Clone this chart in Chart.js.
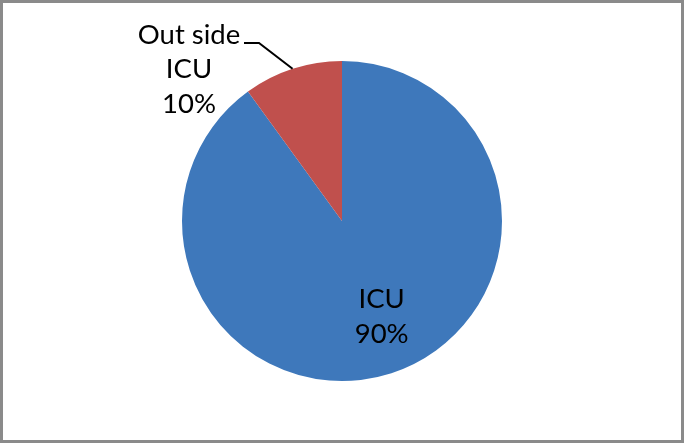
<!DOCTYPE html>
<html>
<head>
<meta charset="utf-8">
<script src="https://cdn.jsdelivr.net/npm/chart.js@4"></script>
<style>
html,body{margin:0;padding:0;background:#fff;}
#wrap{position:relative;width:684px;height:443px;}
canvas{display:block;}
</style>
</head>
<body>
<div id="wrap"><canvas id="c" width="684" height="443"></canvas></div>
<script>
const categories = ["ICU", "Out side ICU"];
const values = [90, 10];
const percentLabels = ["90%", "10%"];
const colors = ["#3E78BB", "#C0504D"];

const FONT = "27.5px Lato, 'Open Sans', sans-serif";

const labelPlugin = {
  id: 'labels',
  afterDraw(chart) {
    const ctx = chart.ctx;
    const meta = chart.getDatasetMeta(0);
    ctx.save();
    ctx.fillStyle = '#000';
    ctx.font = FONT;
    ctx.textAlign = 'center';
    ctx.textBaseline = 'middle';
    // ICU label inside slice
    const a0 = meta.data[0];
    const mid0 = (a0.startAngle + a0.endAngle) / 2;
    const r0 = a0.outerRadius * 0.6;
    const x0 = a0.x + Math.cos(mid0) * r0 + 10;
    const y0 = a0.y + Math.sin(mid0) * r0 + 4;
    ctx.fillText(categories[0], x0, y0 - 17);
    ctx.fillText(percentLabels[0], x0, y0 + 18);
    // Outside label with leader line
    const a1 = meta.data[1];
    const mid1 = (a1.startAngle + a1.endAngle) / 2;
    const ex = a1.x + Math.cos(mid1) * a1.outerRadius;
    const ey = a1.y + Math.sin(mid1) * a1.outerRadius;
    ctx.strokeStyle = '#000';
    ctx.lineWidth = 2;
    ctx.beginPath();
    ctx.moveTo(ex, ey);
    ctx.lineTo(259, 43);
    ctx.lineTo(244, 43);
    ctx.stroke();
    const parts = categories[1].split(' ');
    ctx.fillText(parts.slice(0, 2).join(' '), 189, 35);
    ctx.fillText(parts.slice(2).join(' '), 189, 69);
    ctx.fillText(percentLabels[1], 189, 104);
    // border
    ctx.strokeStyle = '#8a8a8a';
    ctx.lineWidth = 3;
    ctx.strokeRect(1.5, 1.5, chart.width - 3, chart.height - 3);
    ctx.restore();
  }
};

new Chart(document.getElementById('c'), {
  type: 'pie',
  data: {
    labels: categories,
    datasets: [{
      data: values,
      backgroundColor: colors,
      borderWidth: 0
    }]
  },
  options: {
    responsive: false,
    animation: false,
    layout: { padding: { top: 61, bottom: 62, left: 0, right: 0 } },
    plugins: {
      legend: { display: false },
      tooltip: { enabled: false }
    }
  },
  plugins: [labelPlugin]
});
</script>
</body>
</html>
